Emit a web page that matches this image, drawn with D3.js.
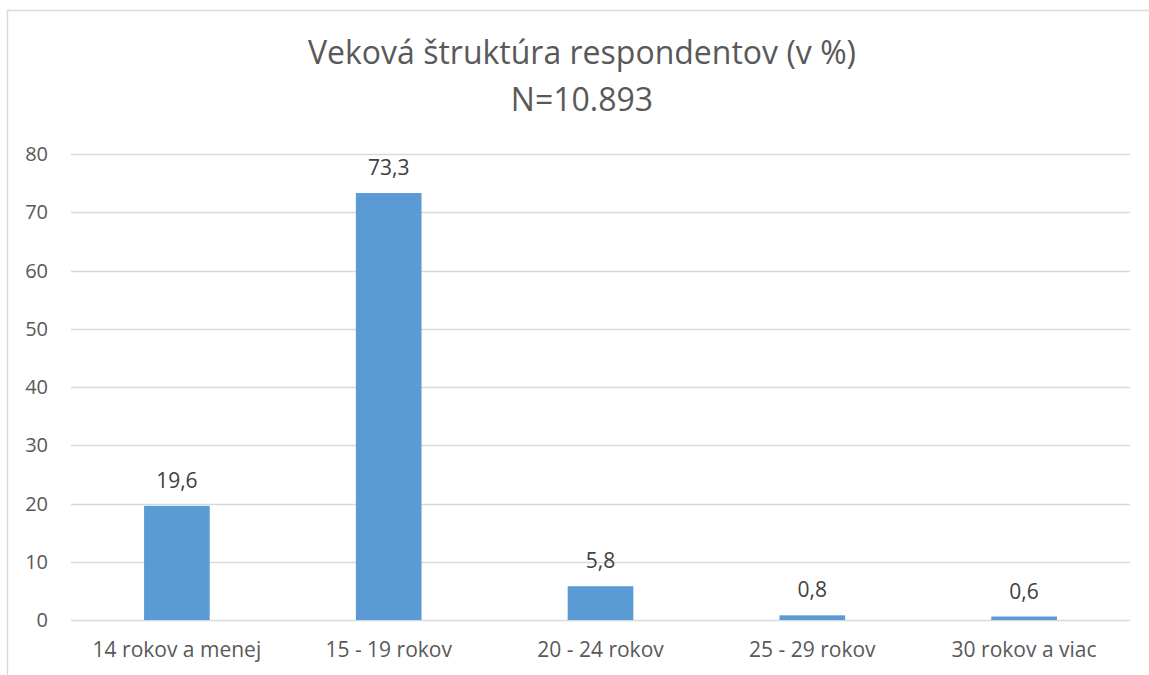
<!DOCTYPE html>
<html>
<head>
<meta charset="utf-8">
<script src="https://cdn.jsdelivr.net/npm/d3@7"></script>
<style>
  body { margin: 0; background: #fff; }
  svg { display: block; font-family: "Open Sans", "Noto Sans", sans-serif; }
</style>
</head>
<body>
<div id="chart"></div>
<script>
// --- data ---
const categories = ["14 rokov a menej", "15 - 19 rokov", "20 - 24 rokov", "25 - 29 rokov", "30 rokov a viac"];
const values = [19.6, 73.3, 5.8, 0.8, 0.6];
const yTicks = [0, 10, 20, 30, 40, 50, 60, 70, 80];
const titleLines = ["Veková štruktúra respondentov (v %)", "N=10.893"];

const width = 1149, height = 675;
const margin = { top: 154, right: 19, bottom: 55, left: 71 };

const svg = d3.select("#chart").append("svg")
  .attr("width", width)
  .attr("height", height);

// chart border (runs off right and bottom edges)
svg.append("rect")
  .attr("x", 7.5).attr("y", 10.5)
  .attr("width", width + 20).attr("height", height + 20)
  .attr("fill", "#fff")
  .attr("stroke", "#d9d9d9")
  .attr("stroke-width", 1.5);

const x = d3.scaleBand()
  .domain(categories)
  .range([margin.left, width - margin.right])
  .paddingInner(0.69)
  .paddingOuter(0.345);

const y = d3.scaleLinear()
  .domain([0, 80])
  .range([height - margin.bottom, margin.top]);

// gridlines
svg.append("g")
  .selectAll("line")
  .data(yTicks)
  .join("line")
  .attr("x1", margin.left).attr("x2", width - margin.right)
  .attr("y1", d => Math.round(y(d)) + 0.5).attr("y2", d => Math.round(y(d)) + 0.5)
  .attr("stroke", "#d9d9d9")
  .attr("stroke-width", 1.5);

// y tick labels
svg.append("g")
  .selectAll("text")
  .data(yTicks)
  .join("text")
  .attr("x", 48)
  .attr("y", d => y(d))
  .attr("dy", "0.35em")
  .attr("text-anchor", "end")
  .attr("font-size", 20)
  .attr("fill", "#595959")
  .text(d => d);

// bars
svg.append("g")
  .selectAll("rect")
  .data(values)
  .join("rect")
  .attr("x", (d, i) => x(categories[i]))
  .attr("width", x.bandwidth())
  .attr("y", d => y(d))
  .attr("height", d => y(0) - y(d))
  .attr("fill", "#5b9bd5");

// value labels
svg.append("g")
  .selectAll("text")
  .data(values)
  .join("text")
  .attr("x", (d, i) => x(categories[i]) + x.bandwidth() / 2)
  .attr("y", d => y(d) - 18)
  .attr("text-anchor", "middle")
  .attr("font-size", 21)
  .attr("fill", "#404040")
  .text(d => d3.format(".1f")(d).replace(".", ","));

// x category labels
svg.append("g")
  .selectAll("text")
  .data(categories)
  .join("text")
  .attr("x", d => x(d) + x.bandwidth() / 2)
  .attr("y", 657)
  .attr("text-anchor", "middle")
  .attr("font-size", 21)
  .attr("fill", "#595959")
  .text(d => d);

// title
svg.append("g")
  .selectAll("text")
  .data(titleLines)
  .join("text")
  .attr("x", 582)
  .attr("y", (d, i) => 64 + i * 47)
  .attr("text-anchor", "middle")
  .attr("font-size", 32)
  .attr("fill", "#595959")
  .text(d => d);
</script>
</body>
</html>
